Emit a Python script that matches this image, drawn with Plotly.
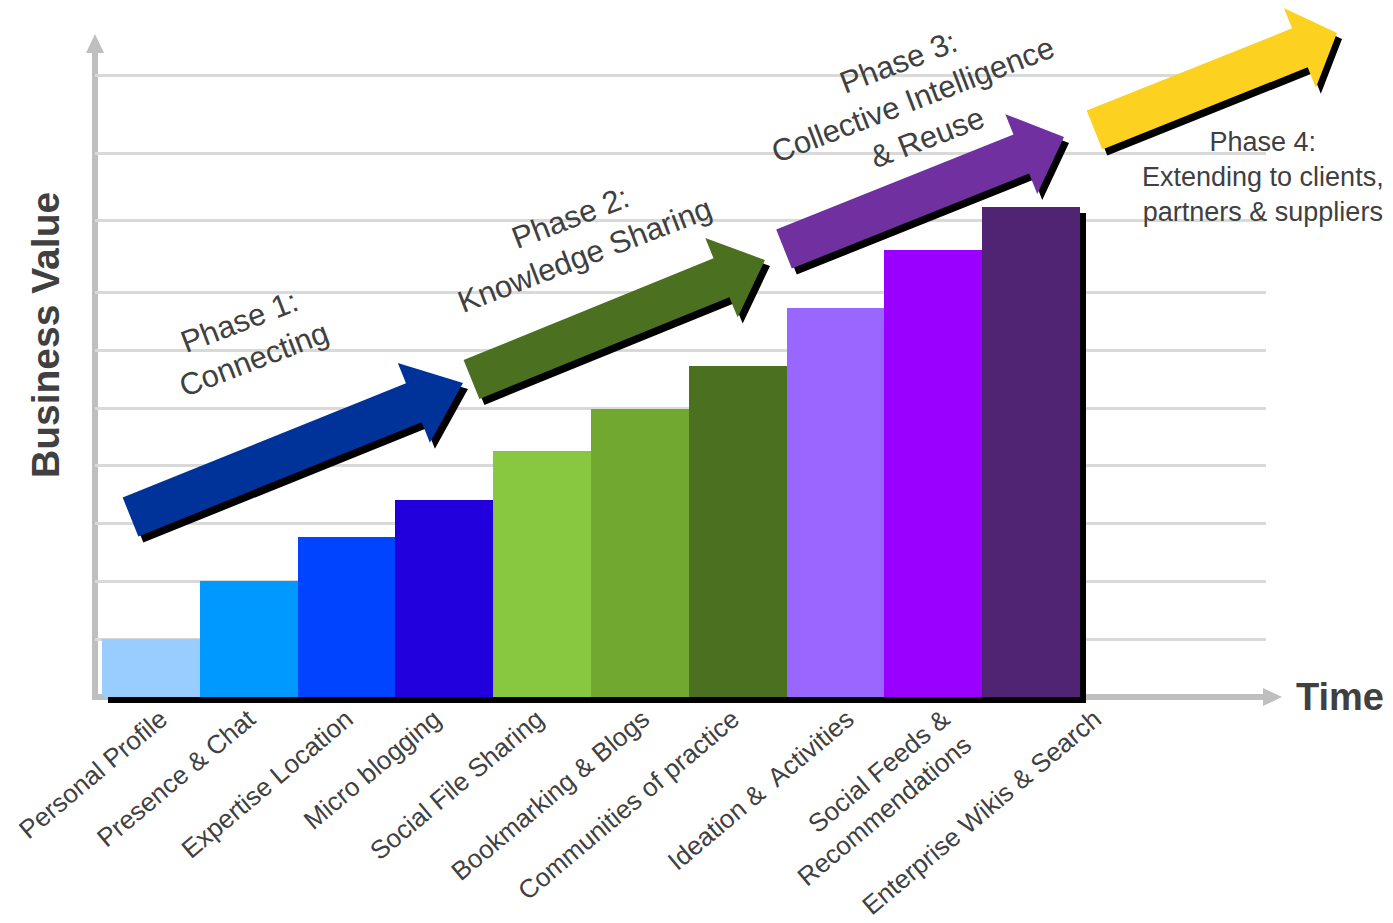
import math
import plotly.graph_objects as go

# ---------------- data ----------------
categories = ["Personal Profile", "Presence & Chat", "Expertise Location", "Micro blogging",
              "Social File Sharing", "Bookmarking & Blogs", "Communities of practice",
              "Ideation &\u00a0 Activities", "Social Feeds &<br>Recommendations",
              "Enterprise Wikis & Search"]
values = [1.0, 2.0, 2.77, 3.41, 4.26, 4.98, 5.73, 6.73, 7.73, 8.48]
bar_colors = ["#99ccff", "#0099ff", "#0044ff", "#2200dd", "#88c840",
              "#70a830", "#4a7020", "#9966ff", "#9900ff", "#512373"]
grid_levels = [1, 2, 3, 4, 5, 6, 7, 8.25, 9.4, 10.75]
phase_texts = ["Phase 1:<br>Connecting", "Phase 2:<br>Knowledge Sharing",
               "Phase 3:<br>Collective Intelligence<br>& Reuse",
               "Phase 4:<br>Extending to clients,<br>partners & suppliers"]
phase_colors = ["#003399", "#4a7020", "#7030a0", "#fcd120"]

# ---------------- layout geometry ----------------
W, H = 1393, 923
ML, MR, MT, MB = 95, 127, 40, 218
PW, PH = W - ML - MR, H - MT - MB
UX, UY = 97.8, 57.8                      # px per x unit / y unit
X0 = -0.5 - (102 - ML) / UX
Y0 = -((H - MB) - 697) / UY
XR = [X0, X0 + PW / UX]
YR = [Y0, Y0 + PH / UY]

FONT = "Arial, 'Liberation Sans', sans-serif"
TXT = "#404040"
GRAY = "#bfbfbf"


def paper(px, py):
    return (px - ML) / PW, ((H - MB) - py) / PH


def path_from(points, dx=0, dy=0):
    s = ""
    for i, (x, y) in enumerate(points):
        xp, yp = paper(x + dx, y + dy)
        s += ("M" if i == 0 else "L") + f"{xp:.5f},{yp:.5f} "
    return s + "Z"


def arrow_points(tail, tip, head_len, shaft=42, head=86):
    ux, uy = tip[0] - tail[0], tip[1] - tail[1]
    n = math.hypot(ux, uy)
    ux, uy = ux / n, uy / n
    px_, py_ = -uy, ux
    bx, by = tip[0] - ux * head_len, tip[1] - uy * head_len
    return [
        (tail[0] - px_ * shaft / 2, tail[1] - py_ * shaft / 2),
        (bx - px_ * shaft / 2, by - py_ * shaft / 2),
        (bx - px_ * head / 2, by - py_ * head / 2),
        tip,
        (bx + px_ * head / 2, by + py_ * head / 2),
        (bx + px_ * shaft / 2, by + py_ * shaft / 2),
        (tail[0] + px_ * shaft / 2, tail[1] + py_ * shaft / 2),
    ]


x_idx = list(range(len(categories)))

fig = go.Figure()
# shadow bars
fig.add_trace(go.Bar(x=x_idx, y=values, width=1, offset=-0.5 + 6 / UX, base=-6 / UY,
                     marker=dict(color="black", line=dict(width=0)),
                     hoverinfo="skip", showlegend=False))
# bars
fig.add_trace(go.Bar(x=x_idx, y=values, width=1, offset=-0.5,
                     marker=dict(color=bar_colors, line=dict(width=0)),
                     hovertext=[c.replace("<br>", " ") for c in categories],
                     showlegend=False))

shapes = []
# axes (gray with arrowheads)
shapes.append(dict(type="path", xref="paper", yref="paper", layer="between",
                   path=path_from([(92, 52), (98, 52), (98, 700), (92, 700)]),
                   fillcolor=GRAY, line=dict(width=0)))
shapes.append(dict(type="path", xref="paper", yref="paper", layer="between",
                   path=path_from([(86, 53), (95, 34), (104, 53)]),
                   fillcolor=GRAY, line=dict(width=0)))
shapes.append(dict(type="path", xref="paper", yref="paper", layer="between",
                   path=path_from([(92, 694), (1264, 694), (1264, 700), (92, 700)]),
                   fillcolor=GRAY, line=dict(width=0)))
shapes.append(dict(type="path", xref="paper", yref="paper", layer="between",
                   path=path_from([(1263, 688), (1282, 697), (1263, 706)]),
                   fillcolor=GRAY, line=dict(width=0)))

# phase arrows
arrow_geo = [((130.5, 517), (463, 383), 53),
             ((471.5, 379.5), (765, 260), 47),
             ((784, 249), (1064, 137), 46),
             ((1094.5, 130), (1337, 33), 40)]
for (tail, tip, hl), col in zip(arrow_geo, phase_colors):
    pts = arrow_points(tail, tip, hl)
    shapes.append(dict(type="path", xref="paper", yref="paper", layer="above",
                       path=path_from(pts, 5, 6), fillcolor="black", line=dict(width=0)))
    shapes.append(dict(type="path", xref="paper", yref="paper", layer="above",
                       path=path_from(pts), fillcolor=col, line=dict(width=0)))

annotations = []
text_geo = [((246, 340), -21, 31), ((577, 236), -21, 31), ((913, 100), -21, 31),
            ((1263, 177), 0, 27)]
for txt, ((cx, cy), ang, fs) in zip(phase_texts, text_geo):
    xp, yp = paper(cx, cy)
    annotations.append(dict(x=xp, y=yp, xref="paper", yref="paper", text=txt,
                            showarrow=False, textangle=ang, xanchor="center",
                            yanchor="middle", align="center",
                            font=dict(family=FONT, size=fs, color=TXT)))
xp, yp = paper(45, 335)
annotations.append(dict(x=xp, y=yp, xref="paper", yref="paper", text="<b>Business Value</b>",
                        showarrow=False, textangle=-90, xanchor="center", yanchor="middle",
                        font=dict(family=FONT, size=39, color=TXT)))
xp, yp = paper(1340, 697)
annotations.append(dict(x=xp, y=yp, xref="paper", yref="paper", text="<b>Time</b>",
                        showarrow=False, xanchor="center", yanchor="middle",
                        font=dict(family=FONT, size=38, color=TXT)))

label_nudge = [0.1, 0.0, 0.0, -0.1, -0.05, 0.03, -0.05, 0.12, 0.1, 0.65]
tick_pos = [i + d for i, d in zip(x_idx, label_nudge)]

fig.update_layout(
    width=W, height=H,
    margin=dict(l=ML, r=MR, t=MT, b=MB, pad=0, autoexpand=False),
    paper_bgcolor="white", plot_bgcolor="white",
    barmode="overlay", bargap=0,
    showlegend=False,
    shapes=shapes, annotations=annotations,
    xaxis=dict(range=XR, showgrid=False, zeroline=False, showline=False,
               automargin=False, ticklabelstandoff=-7,
               tickmode="array", tickvals=tick_pos, ticktext=categories,
               tickangle=-40, ticks="", fixedrange=True,
               tickfont=dict(family=FONT, size=26, color=TXT)),
    yaxis=dict(range=YR, showgrid=True, gridcolor="#d9d9d9", gridwidth=3,
               automargin=False,
               zeroline=False, showline=False, tickmode="array", tickvals=grid_levels,
               showticklabels=False, ticks="", fixedrange=True),
)

post = (
    "var de=document.documentElement, b=document.body;"
    "[de,b].forEach(function(e){e.style.margin='0';e.style.padding='0';"
    "e.style.overflow='hidden';});"
)
fig.write_html("out.html", config={"displayModeBar": False}, post_script=post)
